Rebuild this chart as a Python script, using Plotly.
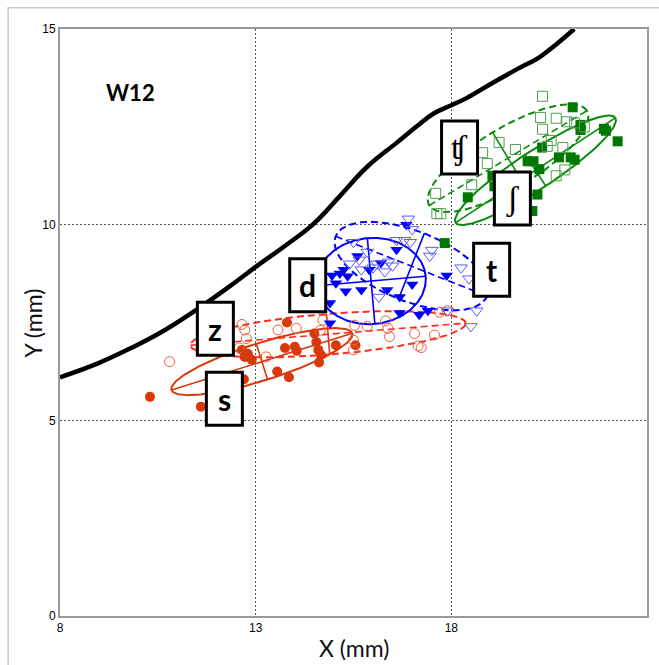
import numpy as np
import plotly.graph_objects as go

# ---------------- data (mm) ----------------
# /s/ : filled red circles
s_x = [10.3, 11.6, 12.7, 12.65, 12.72, 12.9, 12.8, 13.55, 13.85, 13.8, 13.75, 14.0, 14.05,
       14.5, 14.55, 14.6, 14.67, 14.62, 15.05, 15.55]
s_y = [5.6, 5.35, 6.05, 6.8, 6.62, 6.55, 6.7, 6.25, 6.1, 7.5, 6.85, 6.88, 6.78,
       7.22, 7.0, 6.8, 6.67, 6.48, 6.92, 6.92]

# /z/ : open red circles
z_x = [10.8, 12.58, 12.72, 12.76, 12.65, 13.27, 13.57, 14.04, 14.72, 14.65, 15.53, 15.5, 15.5,
       15.85, 16.32, 16.38, 16.42, 17.06, 17.15, 17.23, 17.57, 17.7, 17.9]
z_y = [6.5, 6.85, 7.31, 7.09, 7.45, 6.62, 7.31, 7.35, 7.56, 7.3, 7.43, 7.05, 6.8,
       7.4, 7.54, 7.35, 7.14, 7.22, 6.9, 6.86, 7.18, 7.76, 7.8]

# /d/ : filled blue triangles
d_x = [16.85, 15.6, 15.9, 16.2, 16.6, 14.95, 15.05, 15.25, 15.35, 15.3, 15.7, 16.36, 16.68,
       17.0, 17.88, 17.18, 17.4, 16.68, 14.9, 14.9, 15.15]
d_y = [10.0, 9.2, 8.85, 9.02, 9.36, 8.7, 8.5, 8.85, 8.68, 8.3, 8.33, 8.33, 8.15,
       8.47, 8.7, 7.7, 7.8, 7.74, 8.0, 7.48, 8.75]

# /t/ : open blue triangles
t_x = [16.9, 17.0, 16.6, 16.8, 16.95, 17.5, 17.45, 15.65, 15.7, 16.1, 16.4, 16.5, 16.3,
       15.85, 16.15, 18.25, 18.45, 18.5, 18.65, 17.9, 15.4, 16.0, 15.5]
t_y = [10.15, 9.88, 9.6, 9.6, 9.55, 9.35, 9.2, 9.1, 8.85, 9.0, 9.05, 8.95, 8.8,
       9.3, 8.15, 8.9, 8.62, 7.4, 7.8, 7.8, 9.0, 8.9, 9.55]

# /ʃ/ : filled green squares
sh_x = [21.1, 21.3, 21.3, 21.95, 22.25, 20.32, 19.95, 20.1, 20.25, 20.75, 21.05, 21.15,
        19.05, 19.1, 18.42, 20.2, 20.07, 17.83, 21.9]
sh_y = [13.0, 12.55, 12.42, 12.4, 12.13, 11.97, 11.62, 11.62, 11.42, 11.72, 11.72, 11.66,
        11.25, 10.98, 10.7, 10.77, 10.35, 9.53, 12.45]

# /tʃ/ : open green squares
tsh_x = [20.33, 20.28, 20.68, 20.95, 21.15, 20.33, 20.55, 20.85, 19.64, 19.22, 18.8, 18.92,
         18.52, 17.6, 17.63, 17.73, 20.9, 20.68, 21.4, 20.45]
tsh_y = [13.28, 12.74, 12.72, 12.63, 12.6, 12.44, 12.15, 11.97, 11.92, 12.1, 11.84, 11.56,
         11.02, 10.8, 10.28, 10.28, 11.4, 11.25, 12.5, 12.0]

# dispersion ellipses per phoneme (order: s, z, d, t, ʃ, tʃ)
ell_cx = [13.16, 14.85, 15.95, 16.98, 20.15, 19.45]
ell_cy = [6.50, 7.20, 8.56, 8.94, 11.39, 11.70]
ell_a = [2.42, 3.53, 1.40, 2.08, 2.44, 2.35]     # semi-major (mm)
ell_b = [0.48, 0.52, 1.10, 0.90, 0.48, 0.77]     # semi-minor (mm)
ell_deg = [17.4, 4.6, 5.0, -21.5, 33.3, 31.0]    # orientation (deg)

# palate contour
pal_x = [8.0, 9.0, 9.8, 10.55, 11.45, 12.4, 13.0, 13.85, 14.5, 15.15, 15.85, 16.6, 17.15,
         17.55, 18.0, 18.4, 19.05, 19.73, 20.24, 20.67, 21.14]
pal_y = [6.1, 6.47, 6.84, 7.23, 7.8, 8.47, 8.92, 9.53, 10.04, 10.73, 11.48, 12.09, 12.54,
         12.84, 13.05, 13.24, 13.62, 14.0, 14.27, 14.6, 15.0]

phonemes = ["s", "z", "d", "t", "ʃ", "ʧ"]
label_x = [12.2, 11.97, 14.33, 19.03, 19.56, 18.21]
label_y = [5.55, 7.34, 8.45, 8.85, 10.67, 11.97]

x_ticks = [8, 13, 18]
y_ticks = [0, 5, 10, 15]

# ---------------- styling ----------------
RED_S, RED_Z, RED_ZE = "#d8380a", "#e8603a", "#ff2a1a"
BLUE_D, BLUE_T = "#0000ff", "#5a5aff"
GREEN_SH, GREEN_TSH, GREEN_E = "#007800", "#4fa04f", "#0a8a0a"

groups = [
    dict(x=s_x, y=s_y, symbol="circle", color=RED_S, size=10, ecolor=RED_S, dash="solid"),
    dict(x=z_x, y=z_y, symbol="circle-open", color=RED_Z, size=10, ecolor=RED_ZE, dash="7px,4px"),
    dict(x=d_x, y=d_y, symbol="triangle-down", color=BLUE_D, size=11, ecolor=BLUE_D, dash="solid"),
    dict(x=t_x, y=t_y, symbol="triangle-down-open", color=BLUE_T, size=11, ecolor=BLUE_D, dash="7px,4px"),
    dict(x=sh_x, y=sh_y, symbol="square", color=GREEN_SH, size=10, ecolor=GREEN_E, dash="solid"),
    dict(x=tsh_x, y=tsh_y, symbol="square-open", color=GREEN_TSH, size=10, ecolor=GREEN_E, dash="7px,4px"),
]

fig = go.Figure()

# palate trace
fig.add_trace(go.Scatter(x=pal_x, y=pal_y, mode="lines",
                         line=dict(color="black", width=4.5, shape="spline", smoothing=1.2),
                         hoverinfo="skip", showlegend=False))

tt = np.linspace(0, 2 * np.pi, 241)
for i, g in enumerate(groups):
    cx, cy, a, b = ell_cx[i], ell_cy[i], ell_a[i], ell_b[i]
    th = np.deg2rad(ell_deg[i])
    ex = cx + a * np.cos(tt) * np.cos(th) - b * np.sin(tt) * np.sin(th)
    ey = cy + a * np.cos(tt) * np.sin(th) + b * np.sin(tt) * np.cos(th)
    fig.add_trace(go.Scatter(x=ex, y=ey, mode="lines",
                             line=dict(color=g["ecolor"], width=2, dash=g["dash"]),
                             hoverinfo="skip", showlegend=False))
    # principal axes
    fig.add_trace(go.Scatter(x=[cx - a * np.cos(th), cx + a * np.cos(th)],
                             y=[cy - a * np.sin(th), cy + a * np.sin(th)], mode="lines",
                             line=dict(color=g["ecolor"], width=1.6, dash=g["dash"]),
                             hoverinfo="skip", showlegend=False))
    fig.add_trace(go.Scatter(x=[cx + b * np.sin(th), cx - b * np.sin(th)],
                             y=[cy - b * np.cos(th), cy + b * np.cos(th)], mode="lines",
                             line=dict(color=g["ecolor"], width=1.6),
                             hoverinfo="skip", showlegend=False))

for g in groups:
    open_m = g["symbol"].endswith("open")
    fig.add_trace(go.Scatter(
        x=g["x"], y=g["y"], mode="markers",
        marker=dict(symbol=g["symbol"], size=g["size"], color=g["color"],
                    line=dict(color=g["color"], width=1 if open_m else 0)),
        hoverinfo="skip", showlegend=False))

shapes = [
    # light outer frame
    dict(type="rect", xref="paper", yref="paper", x0=-0.0883, x1=1.4, y0=-0.4, y1=1.0363,
         line=dict(color="#c8c8c8", width=1.5), fillcolor="rgba(0,0,0,0)", layer="below"),
]
annotations = []
for i, ph in enumerate(phonemes):
    shapes.append(dict(type="rect", xref="x", yref="y", xsizemode="pixel", ysizemode="pixel",
                       xanchor=label_x[i], yanchor=label_y[i], x0=-18, x1=18, y0=-26.5, y1=26.5,
                       line=dict(color="black", width=3), fillcolor="white", layer="above"))
    serif = ph in ("ʃ", "ʧ")
    annotations.append(dict(
        x=label_x[i], y=label_y[i], xref="x", yref="y", text=ph if serif else f"<b>{ph}</b>",
        showarrow=False, xanchor="center", yanchor="middle",
        font=dict(family="Liberation Serif, DejaVu Serif, serif" if serif else "Lato, Open Sans, sans-serif",
                  size=34 if serif else 30, color="black")))

annotations += [
    dict(x=9.79, y=13.39, xref="x", yref="y", text="<b>W12</b>", showarrow=False,
         font=dict(family="Lato, sans-serif", size=22, color="black")),
    dict(x=0.5, y=-0.055, xref="paper", yref="paper", text="X (mm)", showarrow=False,
         xanchor="center", yanchor="middle", font=dict(family="Lato, sans-serif", size=23, color="#111")),
    dict(x=-0.046, y=0.5, xref="paper", yref="paper", text="Y (mm)", showarrow=False, textangle=-90,
         xanchor="center", yanchor="middle", font=dict(family="Lato, sans-serif", size=23, color="#111")),
]

axis_common = dict(showline=True, linecolor="#9a9a9a", linewidth=2, mirror=True,
                   showgrid=True, gridcolor="#555555", gridwidth=1, griddash="2px,2px",
                   zeroline=False, ticks="",
                   tickfont=dict(family="Liberation Sans, Arial, sans-serif", size=12, color="black"))

fig.update_layout(
    width=659, height=665,
    margin=dict(l=60, r=10, t=29, b=49),
    paper_bgcolor="white", plot_bgcolor="white",
    xaxis=dict(range=[8, 23], tickvals=x_ticks, ticktext=[str(v) for v in x_ticks], **axis_common),
    yaxis=dict(range=[0, 15], tickvals=y_ticks, ticktext=[str(v) for v in y_ticks], **axis_common),
    shapes=shapes, annotations=annotations, showlegend=False,
)

fig.write_html("out.html")
